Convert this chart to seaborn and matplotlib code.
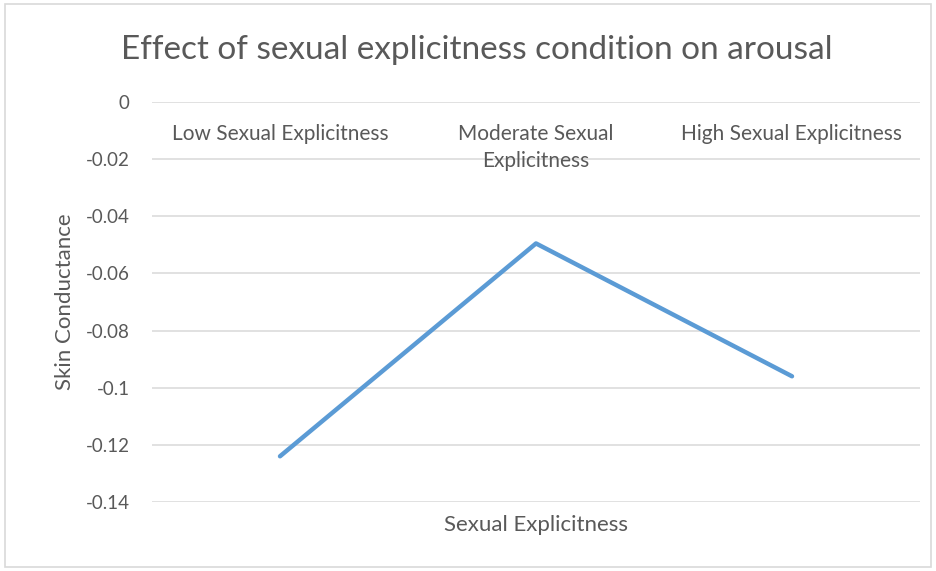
import matplotlib.pyplot as plt
import matplotlib.patches as mpatches
import pandas as pd
import seaborn as sns

# data
conditions = ['Low Sexual Explicitness', 'Moderate Sexual\nExplicitness', 'High Sexual Explicitness']
skin_conductance = [-0.124, -0.0495, -0.096]
y_ticks = [0, -0.02, -0.04, -0.06, -0.08, -0.1, -0.12, -0.14]
y_tick_labels = ['0', '-0.02', '-0.04', '-0.06', '-0.08', '-0.1', '-0.12', '-0.14']

df = pd.DataFrame({'condition': conditions, 'sc': skin_conductance})

sns.set_theme(style='white')
plt.rcParams['font.family'] = ['Lato', 'DejaVu Sans']

TXT = '#595959'
GRID = '#D9D9D9'

fig = plt.figure(figsize=(9.37, 5.71), dpi=100)
ax = fig.add_axes([152 / 937, 1 - 502 / 571, 768 / 937, 400 / 571])

for t in y_ticks:
    ax.axhline(t, color=GRID, lw=1.1, zorder=0)

sns.lineplot(data=df, x='condition', y='sc', ax=ax, color='#5B9BD5', lw=3.2,
             solid_capstyle='round', sort=False)

ax.set_xlim(-0.5, 2.5)
ax.set_ylim(-0.14, 0)
ax.set_yticks(y_ticks)
ax.set_yticklabels(y_tick_labels, color=TXT, fontsize=13.5)
ax.tick_params(axis='y', length=0, pad=16)

# category axis sits on the zero line, labels hang below it
ax.spines['bottom'].set_position(('data', 0))
ax.tick_params(axis='x', length=0, pad=16, labelcolor=TXT, labelsize=15)
for lab in ax.get_xticklabels():
    lab.set_linespacing(1.4)
for s in ['top', 'right', 'left', 'bottom']:
    ax.spines[s].set_visible(False)

ax.set_xlabel('')
ax.set_ylabel('Skin Conductance', color=TXT, fontsize=16, labelpad=8)
ax.text(0.5, -0.058, 'Sexual Explicitness', transform=ax.transAxes,
        ha='center', va='center', color=TXT, fontsize=16)

fig.text(477 / 937, 1 - 50 / 571, 'Effect of sexual explicitness condition on arousal',
         ha='center', va='center', color=TXT, fontsize=24)

fig.patches.append(mpatches.Rectangle((5 / 937, 4 / 571), 926 / 937, 563 / 571,
                                      transform=fig.transFigure, fill=False,
                                      edgecolor=GRID, lw=1.2))

fig.savefig('out.png', dpi=100)
